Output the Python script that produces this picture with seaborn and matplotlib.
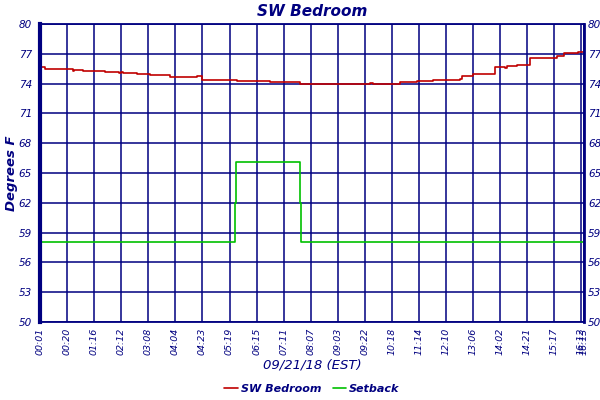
import pandas as pd
import matplotlib
matplotlib.use("Agg")
import matplotlib.pyplot as plt
import seaborn as sns

NAVY = "#000080"

# x positions are in "tick slot" units (one slot = one labelled grid column)
tick_labels = ["00:01", "00:20", "01:16", "02:12", "03:08", "04:04", "04:23",
               "05:19", "06:15", "07:11", "08:07", "09:03", "09:22", "10:18",
               "11:14", "12:10", "13:06", "14:02", "14:21", "15:17", "16:12", "16:13"]
tick_pos = [0, 1, 2, 3, 4, 5, 6, 7, 8, 9, 10, 11, 12, 13, 14, 15, 16, 17, 18, 19, 20, 20.1]

room_x = [0, 0.04, 0.18, 1.2, 1.26, 1.6, 1.66, 2.4, 2.9, 3.0, 3.05, 3.5, 3.57,
          4.07, 4.4, 4.45, 4.8, 5.8, 5.85, 5.98, 7.27, 7.6, 7.7, 8.13, 8.5,
          9.61, 9.67, 10.97, 12.08, 12.2, 12.3, 13.31, 13.93, 14.54, 14.91,
          15.53, 15.6, 15.71, 16.02, 16.82, 17.19, 17.25, 17.62, 18.11, 19.1,
          19.35, 19.9, 20.1]
room_temp = [75.55, 75.69, 75.52, 75.29, 75.32, 75.22, 75.25, 75.15, 75.08,
             75.12, 75.08, 75.04, 74.92, 74.85, 74.9, 74.85, 74.71, 74.8, 74.75,
             74.41, 74.31, 74.25, 74.31, 74.24, 74.14, 73.95, 74.0, 73.92, 74.0,
             74.05, 74.0, 74.12, 74.22, 74.35, 74.4, 74.5, 74.75, 74.78, 74.92,
             75.66, 75.58, 75.76, 75.9, 76.56, 76.73, 77.1, 77.2, 77.2]

setback_x = [0, 7.22, 7.25, 9.62, 9.66, 20.1]
setback_temp = [58.1, 62.0, 66.1, 62.0, 58.1, 58.1]

y_ticks = [50, 53, 56, 59, 62, 65, 68, 71, 74, 77, 80]

room = pd.DataFrame({"x": room_x, "temp": room_temp})
setback = pd.DataFrame({"x": setback_x, "temp": setback_temp})

sns.set_theme(style="white")
plt.rcParams["font.family"] = ["DejaVu Sans"]

fig = plt.figure(figsize=(6, 4), dpi=100)
ax = fig.add_axes([0.067, 0.195, 0.906, 0.745])

sns.lineplot(data=room, x="x", y="temp", ax=ax, color="#c00000", lw=1.2,
             drawstyle="steps-post", label="SW Bedroom")
sns.lineplot(data=setback, x="x", y="temp", ax=ax, color="#00c000", lw=1.2,
             drawstyle="steps-post", label="Setback")

ax.set_xlim(0, 20.1)
ax.set_ylim(50, 80)
ax.set_yticks(y_ticks)
ax.set_xticks(tick_pos)
ax.set_xticklabels(tick_labels, rotation=90, fontsize=6.8, color=NAVY, style="italic")
ax.tick_params(axis="y", left=False, length=0, labelsize=7.5, labelcolor=NAVY, pad=6)
for lab in ax.get_yticklabels():
    lab.set_style("italic")
ax.tick_params(axis="x", bottom=False, length=0, pad=4)

# right-hand copy of the degree scale
ax2 = ax.twinx()
ax2.set_ylim(50, 80)
ax2.set_yticks(y_ticks)
ax2.tick_params(axis="y", right=False, length=0, labelsize=7.5, labelcolor=NAVY, pad=3)
for lab in ax2.get_yticklabels():
    lab.set_style("italic")
for sp in ax2.spines.values():
    sp.set_visible(False)

ax.grid(True, color=NAVY, lw=1.1)
for side, sp in ax.spines.items():
    sp.set_color(NAVY)
    sp.set_linewidth(1.3)
ax.spines["left"].set_linewidth(3)
ax.spines["right"].set_linewidth(2)

ax.set_title("SW Bedroom", color=NAVY, fontsize=11, fontweight="bold",
             style="italic", pad=6)
ax.set_ylabel("Degrees F", color=NAVY, fontsize=9.5, fontweight="bold",
              style="italic")
ax.yaxis.set_label_coords(-0.041, 0.5)
ax.set_xlabel("09/21/18 (EST)", color=NAVY, fontsize=9.5, style="italic",
              labelpad=3)

leg = ax.legend(loc="center", bbox_to_anchor=(0.5, -0.225), ncol=2,
                frameon=False, fontsize=8, handlelength=1.2, columnspacing=1.0,
                handletextpad=0.3)
for t in leg.get_texts():
    t.set_color(NAVY)
    t.set_style("italic")
    t.set_fontweight("bold")

fig.savefig("out.png", dpi=100)
